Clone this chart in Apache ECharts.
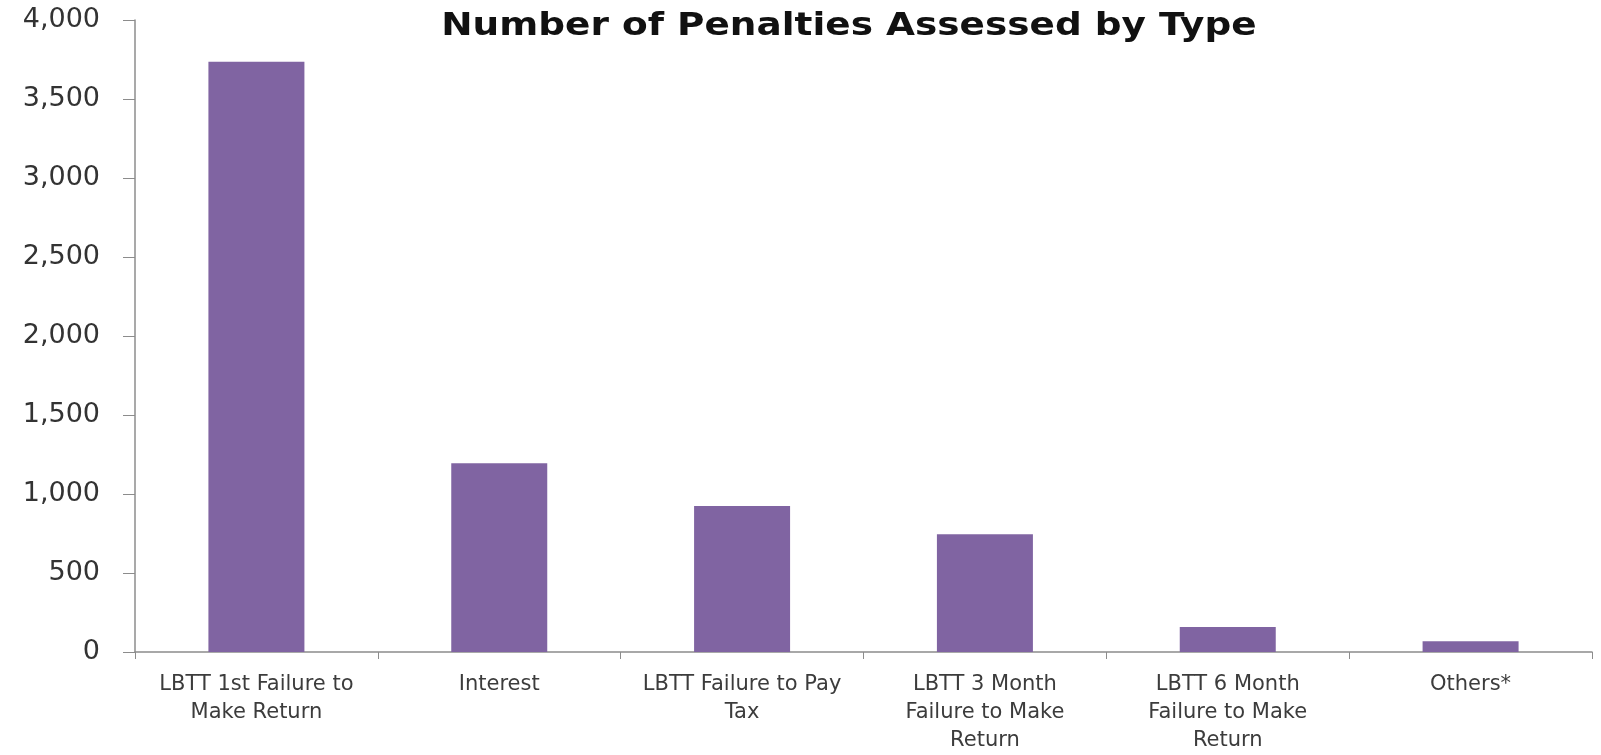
<!DOCTYPE html>
<html>
<head>
<meta charset="utf-8">
<script src="https://cdn.jsdelivr.net/npm/echarts@6/dist/echarts.min.js"></script>
<style>
  html, body { margin: 0; padding: 0; background: #ffffff; }
  #chart { width: 1601px; height: 755px; }
</style>
</head>
<body>
<div id="chart"></div>
<script>
// Penalty types (category axis) and counts
const chartTitle = 'Number of Penalties Assessed by Type';
const categories = [
  'LBTT 1st Failure to\nMake Return',
  'Interest',
  'LBTT Failure to Pay\nTax',
  'LBTT 3 Month\nFailure to Make\nReturn',
  'LBTT 6 Month\nFailure to Make\nReturn',
  'Others*'
];
const penaltyCounts = [3735, 1194, 924, 745, 158, 68];
const yTicks = { min: 0, max: 4000, interval: 500 };

const chart = echarts.init(document.getElementById('chart'));
chart.setOption({
  animation: false,
  backgroundColor: '#ffffff',
  // Heading drawn as a graphic text so it can be widened slightly
  graphic: [{
    type: 'text',
    x: 849,
    y: 27,
    scaleX: 1.17,
    style: {
      text: chartTitle,
      font: 'bold 32px "DejaVu Sans", Verdana, sans-serif',
      fill: '#111111',
      align: 'center',
      verticalAlign: 'middle'
    }
  }],
  grid: { left: 135, right: 9, top: 20, bottom: 101, containLabel: false },
  xAxis: {
    type: 'category',
    data: categories,
    axisLine: { show: true, lineStyle: { color: '#8c8c8c', width: 1.5 } },
    axisTick: { show: true, alignWithLabel: false, length: 7, lineStyle: { color: '#8c8c8c' } },
    axisLabel: {
      interval: 0,
      margin: 19,
      color: '#3c3c3c',
      fontFamily: '"DejaVu Sans", Verdana, sans-serif',
      fontSize: 21,
      lineHeight: 28
    }
  },
  yAxis: {
    type: 'value',
    min: yTicks.min,
    max: yTicks.max,
    interval: yTicks.interval,
    splitLine: { show: false },
    axisLine: { show: true, lineStyle: { color: '#8c8c8c', width: 1.5 } },
    axisTick: { show: true, length: 12, lineStyle: { color: '#8c8c8c' } },
    axisLabel: {
      margin: 35,
      color: '#333333',
      fontFamily: '"DejaVu Sans", Verdana, sans-serif',
      fontSize: 27,
      formatter: v => v.toLocaleString('en-US')
    }
  },
  series: [{
    type: 'bar',
    data: penaltyCounts,
    barWidth: 96,
    itemStyle: { color: '#8064a2' }
  }]
});
</script>
</body>
</html>
